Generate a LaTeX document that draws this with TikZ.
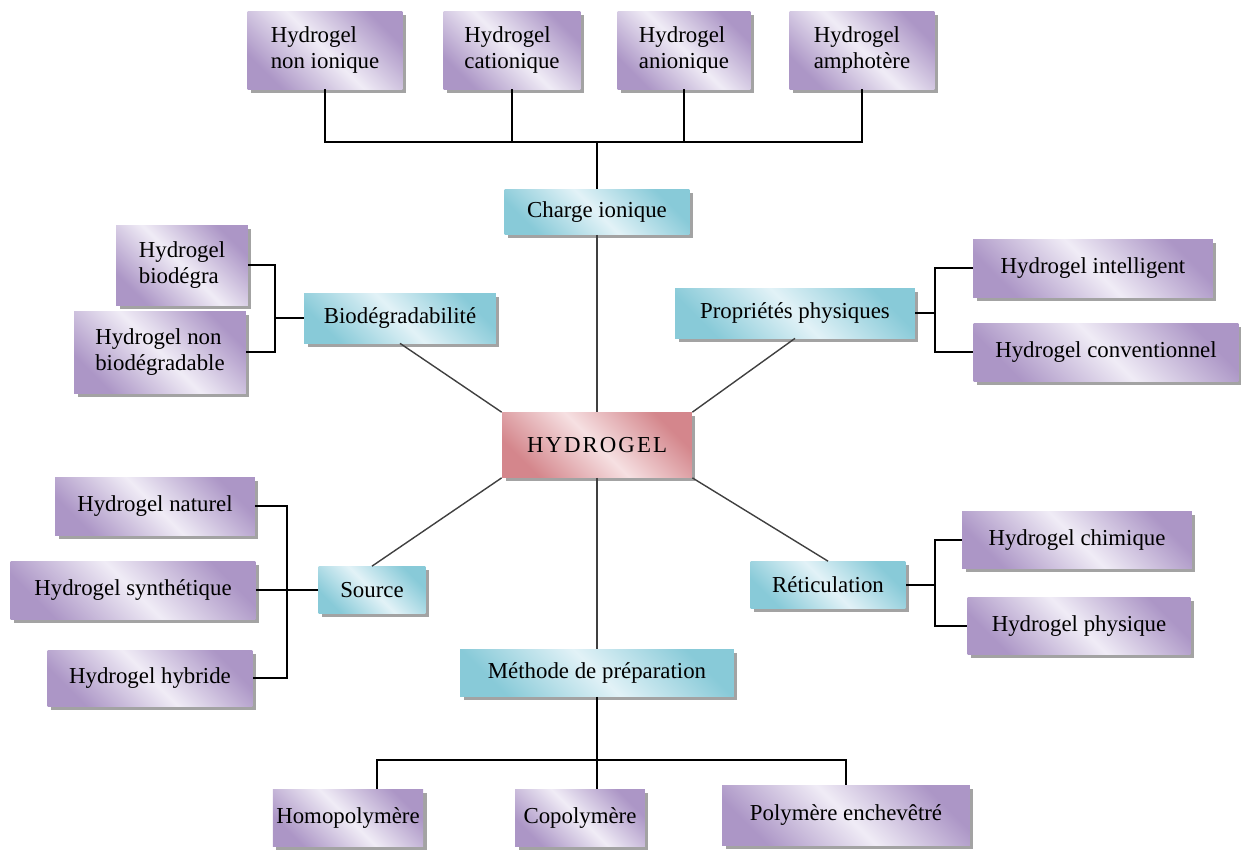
\documentclass[tikz,border=0pt]{standalone}
\usepackage{fontspec}
\setmainfont{Liberation Serif}
\usetikzlibrary{positioning,shadows,calc}
\definecolor{lilacdark}{RGB}{172,150,198}
\definecolor{lilaclight}{RGB}{240,236,246}
\definecolor{cyandark}{RGB}{136,202,216}
\definecolor{cyanlight}{RGB}{226,242,247}
\definecolor{rosedark}{RGB}{212,134,140}
\definecolor{roselight}{RGB}{246,224,226}

\begin{document}
\begin{tikzpicture}[x=0.02cm,y=-0.02cm,font=\fontsize{13}{15}\selectfont]
\tikzstyle{leaf}=[left color=lilacdark,right color=lilacdark,middle color=lilaclight,shading angle=135,align=left,inner sep=2pt,drop shadow={shadow xshift=0.07cm,shadow yshift=-0.07cm,fill=black!45,opacity=.8}]
\tikzstyle{branch}=[left color=cyandark,right color=cyandark,middle color=cyanlight,shading angle=135,align=center,inner sep=2pt,drop shadow={shadow xshift=0.07cm,shadow yshift=-0.07cm,fill=black!45,opacity=.8}]
\tikzstyle{core}=[left color=rosedark,right color=rosedark,middle color=roselight,shading angle=135,align=center,drop shadow={shadow xshift=0.07cm,shadow yshift=-0.07cm,fill=black!45,opacity=.8}]
\tikzstyle{link}=[draw=black,line width=0.8pt]
\tikzstyle{spoke}=[draw=black!75,line width=0.8pt]
\useasboundingbox (0,0) rectangle (1241,850);
% centre
\node[core,minimum width=3.8cm,minimum height=1.3cm] (gel) at (597,445) {\addfontfeature{LetterSpace=9}HYDROGEL};
% charge ionique
\node[branch,minimum width=3.7cm,minimum height=0.9cm] (charge) at (597,212) {Charge ionique};
\node[leaf,minimum width=3.1cm,minimum height=1.56cm] (nonion) at (325,50) {Hydrogel\\non ionique};
\node[leaf,minimum width=2.74cm,minimum height=1.56cm] (cation) at (512,50) {Hydrogel\\cationique};
\node[leaf,minimum width=2.66cm,minimum height=1.56cm] (anion) at (684,50) {Hydrogel\\anionique};
\node[leaf,minimum width=2.9cm,minimum height=1.56cm] (amph) at (862,50) {Hydrogel\\amphotère};
% biodegradabilite
\node[branch,minimum width=3.84cm,minimum height=1.0cm] (biodeg) at (400,318) {Biodégradabilité};
\node[leaf,minimum width=2.64cm,minimum height=1.6cm] (bioA) at (182,265) {Hydrogel\\biodégra};
\node[leaf,minimum width=3.44cm,minimum height=1.64cm] (bioB) at (160,352) {Hydrogel non\\biodégradable};
% proprietes physiques
\node[branch,minimum width=4.8cm,minimum height=1.0cm] (physp) at (795,313) {Propriétés physiques};
\node[leaf,minimum width=4.8cm,minimum height=1.16cm] (intel) at (1093,268) {Hydrogel intelligent};
\node[leaf,minimum width=5.3cm,minimum height=1.16cm] (conv) at (1106,352) {Hydrogel conventionnel};
% source
\node[branch,minimum width=2.14cm,minimum height=0.94cm] (source) at (372,590) {Source};
\node[leaf,minimum width=4.0cm,minimum height=1.16cm] (natur) at (155,506) {Hydrogel naturel};
\node[leaf,minimum width=4.9cm,minimum height=1.16cm] (synth) at (133,590) {Hydrogel synthétique};
\node[leaf,minimum width=4.1cm,minimum height=1.12cm] (hybr) at (150,678) {Hydrogel hybride};
% reticulation
\node[branch,minimum width=3.1cm,minimum height=0.94cm] (retic) at (828,585) {Réticulation};
\node[leaf,minimum width=4.6cm,minimum height=1.14cm] (chim) at (1077,540) {Hydrogel chimique};
\node[leaf,minimum width=4.46cm,minimum height=1.14cm] (phys) at (1079,626) {Hydrogel physique};
% methode de preparation
\node[branch,minimum width=5.48cm,minimum height=0.94cm] (meth) at (597,673) {Méthode de préparation};
\node[leaf,minimum width=2.82cm,minimum height=1.14cm] (homo) at (348,818) {Homopolymère};
\node[leaf,minimum width=2.6cm,minimum height=1.14cm] (copo) at (580,818) {Copolymère};
\node[leaf,minimum width=4.96cm,minimum height=1.2cm] (poly) at (846,815) {Polymère enchevêtré};
% junction points
\coordinate (topbus) at (597,142);
\coordinate (biojoint) at (275,318);
\coordinate (physjoint) at (935,313);
\coordinate (srcjoint) at (287,590);
\coordinate (reticjoint) at (935,585);
\coordinate (botbus) at (597,760);
% tree connectors
\draw[link] (nonion.south) |- (topbus) -| (amph.south);
\draw[link] (cation.south) -- (cation.south |- topbus);
\draw[link] (anion.south) -- (anion.south |- topbus);
\draw[link] (charge.north) -- (topbus);
\draw[link] (bioA.east) -| (biojoint) |- (bioB.east);
\draw[link] (biojoint) -- (biodeg.west);
\draw[link] (intel.west) -| (physjoint) |- (conv.west);
\draw[link] (physp.east) -- (physjoint);
\draw[link] (natur.east) -| (srcjoint) |- (hybr.east);
\draw[link] (synth.east) -- (source.west);
\draw[link] (chim.west) -| (reticjoint) |- (phys.west);
\draw[link] (retic.east) -- (reticjoint);
\draw[link] (meth.south) -- (botbus);
\draw[link] ($(homo.north)+(29,0)$) |- (botbus) -| (poly.north);
\draw[link] (botbus) -- (botbus |- copo.north);
% spokes to the centre
\draw[spoke] (charge.south) -- (gel.north);
\draw[spoke] (biodeg.south) -- (gel.north west);
\draw[spoke] (physp.south) -- (gel.north east);
\draw[spoke] (source.north) -- (gel.south west);
\draw[spoke] (retic.north) -- (gel.south east);
\draw[spoke] (gel.south) -- (meth.north);
\end{tikzpicture}
\end{document}
